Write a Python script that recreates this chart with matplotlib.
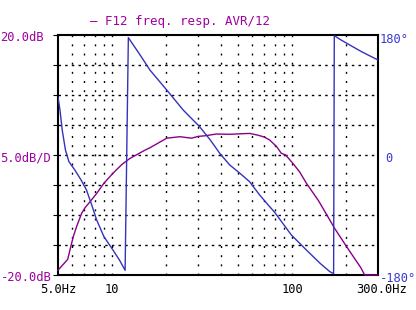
import matplotlib
matplotlib.use("Agg")
import matplotlib.pyplot as plt
import numpy as np

# Magnitude (dB) vs frequency (Hz)
mag_freq = [5.0, 5.66, 5.83, 6.08, 6.35, 6.77, 7.06, 7.53, 8.2, 9.0, 10.1, 11.3, 12.5, 15.2, 16.2,
            20.1, 23.8, 27.6, 30.0, 32.7, 38.0, 45.0, 58.0, 64.6, 70.0, 75.0, 82.0, 87.0,
            92.0, 101.0, 110.0, 120.0, 140.0, 156.0, 172.0, 201.0, 241.0, 253.0, 300.0]
mag_db = [-19.2, -17.4, -15.8, -13.6, -11.9, -9.7, -8.8, -7.8, -6.4, -4.7, -3.05, -1.6, -0.6, 0.8, 1.2,
          2.8, 3.05, 2.8, 3.1, 3.2, 3.5, 3.45, 3.6, 3.3, 3.0, 2.5, 1.4, 0.3,
          0.0, -1.4, -2.8, -4.7, -7.6, -10.0, -12.2, -15.3, -18.8, -20.0, -20.0]

# Phase (degrees, wrapped) vs frequency (Hz)
ph_freq = [5.0, 5.13, 5.28, 5.5, 5.75, 6.2, 6.7, 7.2, 7.7, 8.2, 9.0, 10.1, 11.0, 11.8,
           12.3, 14.3, 16.2, 20.1, 24.8, 30.6, 35.1, 39.6, 45.0, 51.3, 58.0, 66.0, 75.0, 80.0,
           99.0, 120.0, 143.0, 162.0, 170.0, 171.5, 187.0, 209.0, 243.0, 271.0, 300.0]
ph_deg = [87, 67, 37, 7.5, -10, -22.5, -37, -52.5, -75, -97.5, -122.5, -142.5, -158, -173,
          176, 150, 127.5, 97.5, 67.5, 42.5, 22.5, 2.5, -15, -27.5, -40, -60, -77.5, -86,
          -120, -142.5, -162.5, -175, -178, 179, 172.5, 165, 155, 148.5, 142.5]

db_grid = [-15, -10, -5, 0, 5, 10, 15]
f_grid = [6, 7, 8, 9, 10, 20, 30, 40, 50, 60, 70, 80, 90, 100, 200]
x_tick_pos = [5, 10, 100, 300]
x_tick_lbl = ["5.0Hz", "10", "100", "300.0Hz"]
left_lbl = ["20.0dB", "5.0dB/D", "-20.0dB"]
left_pos = [20, 0, -20]
right_lbl = ["180\u00b0", "0", "-180\u00b0"]
right_pos = [180, 0, -180]
title = "\u2013 F12 freq. resp. AVR/12"

PURPLE = "#8a008a"
PURPLE_T = "#a000a0"
BLUE = "#3333bb"
BLUE_T = "#3a3ad0"
FONT = "DejaVu Sans Mono"
FS = 8.7

fig = plt.figure(figsize=(4.16, 3.10), dpi=100)
ax = fig.add_axes([58/416, 1-275/310, 320/416, 240/310])
ax.set_xscale("log")
ax.set_xlim(5, 300)
ax.set_ylim(-20, 20)
for s in ax.spines.values():
    s.set_linewidth(1.5)
    s.set_color("black")
ax.tick_params(left=False, bottom=False, right=False, top=False,
               labelleft=False, labelbottom=False)
ax.minorticks_off()

for d in db_grid:
    ax.axhline(d, color="black", lw=1.0, linestyle=(0, (1.8, 3.0)), zorder=1)
for f in f_grid:
    ax.axvline(f, color="black", lw=1.0, linestyle=(0, (1.4, 5.2)), zorder=1)

ax.plot(mag_freq, mag_db, color=PURPLE, lw=1.0, zorder=3, clip_on=False)

ax2 = ax.twinx()
ax2.set_ylim(-180, 180)
ax2.set_xlim(5, 300)
ax2.tick_params(left=False, bottom=False, right=False, top=False,
                labelright=False, labelleft=False)
for s in ax2.spines.values():
    s.set_visible(False)
ax2.plot(ph_freq, ph_deg, color=BLUE, lw=1.0, zorder=3)

# left labels: left-aligned at the figure edge
tr = matplotlib.transforms.blended_transform_factory(fig.transFigure, ax.transData)
offs = [-0.4, -0.45, -0.4]
for l, p, o in zip(left_lbl, left_pos, offs):
    fig.text(0.5/416, p + o, l, transform=tr, ha="left", va="center", color=PURPLE_T,
             family=FONT, fontsize=FS)
# right labels
tr2 = ax2.get_yaxis_transform()
r_x = [380, 385, 380]
r_off = [-7, -4.5, -4.5]
for l, p, xx, o in zip(right_lbl, right_pos, r_x, r_off):
    ax2.text((xx - 58) / 320, p + o, l, transform=tr2, ha="left", va="center",
             color=BLUE_T, family=FONT, fontsize=FS)
# x labels
trx = ax.get_xaxis_transform()
for p, l in zip(x_tick_pos, x_tick_lbl):
    xx = p * 1.05 if p == 300 else p
    ax.text(xx, -0.06, l, transform=trx, ha="center", va="center", color="black",
            family=FONT, fontsize=FS)

fig.text(90/416, 1-21/310, title, ha="left", va="center", color=PURPLE_T,
         family=FONT, fontsize=9)

fig.savefig("out.png", dpi=100, facecolor="white")
